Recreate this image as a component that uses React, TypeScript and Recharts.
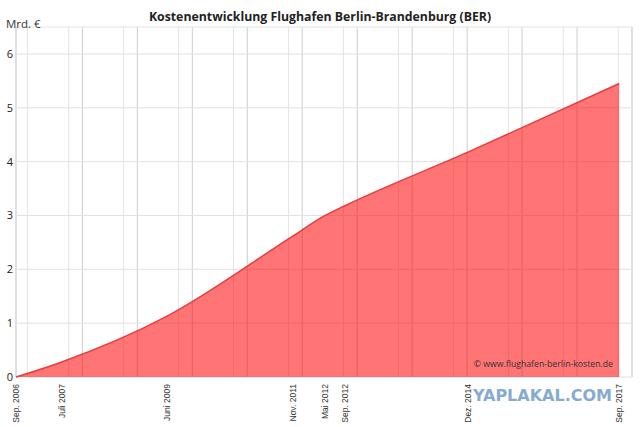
import { AreaChart, Area, XAxis, YAxis, CartesianGrid } from 'recharts'

// months after Sep. 2006
const months = [0, 10, 33, 60.5, 67.5, 71.8, 98.8, 131.7]
const dateLabels = [
  'Sep. 2006',
  'Juli 2007',
  'Juni 2009',
  'Nov. 2011',
  'Mai 2012',
  'Sep. 2012',
  'Dez. 2014',
  'Sep. 2017',
]
const costs = [0, 0.28, 1.13, 2.62, 3.0, 3.18, 4.18, 5.45]

const yTicks = [0, 1, 2, 3, 4, 5, 6]
// quarterly and yearly vertical grid lines
const minorGrid = [
  0, 2.5, 5.5, 8.5, 11.5, 17.5, 20.5, 23.5, 29.5, 32.5, 35.5, 41.5, 44.5, 47.5, 53.5, 56.5,
  59.5, 65.5, 68.5, 71.5, 77.5, 80.5, 83.5, 89.5, 92.5, 95.5, 101.5, 104.5, 107.5, 113.5,
  116.5, 119.5, 125.5, 128.5, 131.5,
]
const majorGrid = [14.5, 26.5, 38.5, 50.5, 62.5, 74.5, 86.5, 98.5, 110.5, 122.5, 134.5]

const X_DOMAIN: [number, number] = [0, 134.5]

const data = months.map((m, i) => ({ m, cost: costs[i] }))

function DateTick({ x, y, payload }: any) {
  const i = months.indexOf(payload.value)
  return (
    <text
      transform={`translate(${x},${y + 7}) rotate(-90)`}
      textAnchor="end"
      dy="0.35em"
      fontSize={8.5}
      fill="#333"
      fontFamily="'Liberation Sans', Arial, sans-serif"
    >
      {i >= 0 ? dateLabels[i] : ''}
    </text>
  )
}

export default function App() {
  return (
    <div
      style={{
        position: 'absolute',
        left: 0,
        top: 0,
        width: 640,
        height: 427,
        background: '#fff',
        fontFamily: "'Open Sans', sans-serif",
        color: '#333',
      }}
    >
      <AreaChart
        width={640}
        height={427}
        data={data}
        margin={{ top: 27, right: 8, bottom: 0, left: 0 }}
      >
        <XAxis xAxisId="minor" type="number" dataKey="m" domain={X_DOMAIN} ticks={minorGrid} hide />
        <XAxis xAxisId="major" type="number" dataKey="m" domain={X_DOMAIN} ticks={majorGrid} hide />
        <CartesianGrid xAxisId="minor" horizontal={false} stroke="#e4e4e4" />
        <CartesianGrid xAxisId="major" horizontal={false} stroke="#cdcdcd" />
        <CartesianGrid vertical={false} stroke="#e2e2e2" />
        <XAxis
          type="number"
          dataKey="m"
          domain={X_DOMAIN}
          ticks={months}
          interval={0}
          tick={<DateTick />}
          tickLine={false}
          axisLine={false}
          tickSize={0}
          tickMargin={0}
          height={50}
        />
        <YAxis
          domain={[0, 6.5]}
          ticks={yTicks}
          width={16}
          tickLine={false}
          axisLine={false}
          tickSize={0}
          tickMargin={3}
          tick={{ fontSize: 11, fill: '#222', fontFamily: "'Open Sans', sans-serif" }}
        />
        <Area
          type="monotone"
          dataKey="cost"
          stroke="#e63c3c"
          strokeWidth={1.5}
          fill="#ff0000"
          fillOpacity={0.54}
          isAnimationActive={false}
        />
      </AreaChart>

      <div
        style={{
          position: 'absolute',
          top: 8,
          left: 0,
          width: 640,
          textAlign: 'center',
          fontSize: 12.3,
          fontWeight: 700,
          color: '#222',
        }}
      >
        Kostenentwicklung Flughafen Berlin-Brandenburg (BER)
      </div>
      <div style={{ position: 'absolute', top: 16, left: 6, fontSize: 11.5 }}>Mrd. €</div>
      <div
        style={{
          position: 'absolute',
          top: 358,
          right: 27,
          fontSize: 8.7,
          color: '#333',
        }}
      >
        © www.flughafen-berlin-kosten.de
      </div>
      <div
        style={{
          position: 'absolute',
          top: 386,
          right: 28,
          fontSize: 16,
          fontWeight: 700,
          color: '#86abcf',
          fontFamily: "'DejaVu Sans', sans-serif",
        }}
      >
        YAPLAKAL.COM
      </div>
    </div>
  )
}
